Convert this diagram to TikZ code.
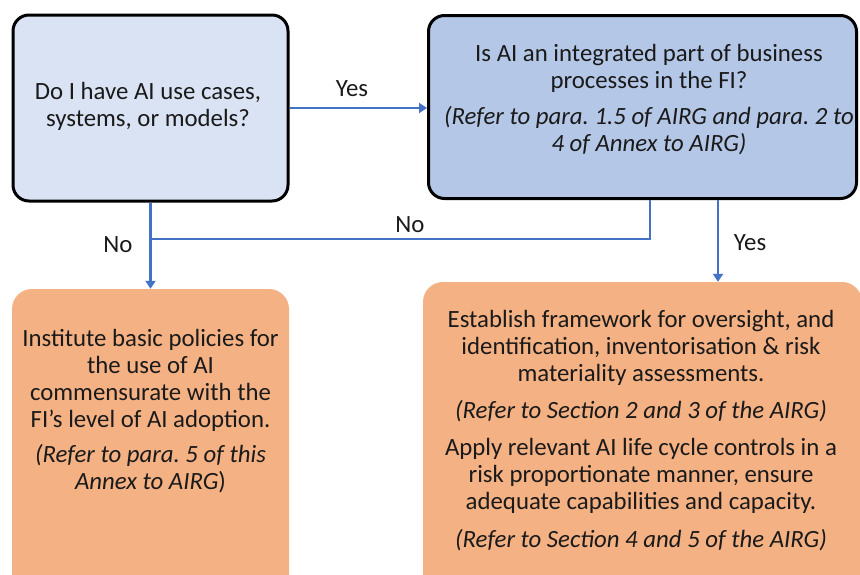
\documentclass[tikz,border=0pt]{standalone}
\usepackage{fontspec}
\setmainfont{Carlito}
\usetikzlibrary{calc,arrows.meta}
\definecolor{qblue}{HTML}{DAE3F3}
\definecolor{qbluedark}{HTML}{B4C7E7}
\definecolor{lineblue}{HTML}{4472C4}
\definecolor{actorange}{HTML}{F4B183}
\definecolor{txt}{HTML}{1A1A1A}
\frenchspacing
\begin{document}
\begin{tikzpicture}[x=1pt,y=-1pt,
  every node/.style={font=\fontsize{24.8}{27}\selectfont, text=txt},
  qbox/.style={draw=black, line width=3pt, rounded corners=16pt, inner sep=0pt},
  actbox/.style={fill=actorange, rounded corners=20pt, inner sep=0pt},
  txtnode/.style={align=center, inner sep=0pt},
  conn/.style={draw=lineblue, line width=2.6pt},
  arr/.style={conn, -{Triangle[length=8pt,width=10pt]}},
  lbl/.style={inner sep=0pt}]
\clip (0,0) rectangle (860,574);
\fill[white] (0,0) rectangle (860,574);
% boxes
\node[qbox, fill=qblue, minimum width=275pt, minimum height=186pt] (A) at (150.5,108) {};
\node[qbox, fill=qbluedark, minimum width=428pt, minimum height=183pt] (B) at (642.5,107) {};
\node[actbox, minimum width=277pt, minimum height=311pt] (C) at (150.5,444.5) {};
\node[actbox, minimum width=439pt, minimum height=318pt] (D) at (642.5,441) {};
% texts
\node[txtnode] (At) at (148,106.5) {Do I have AI use cases,\\systems, or models?};
\node[txtnode] (Bt) at (649,100) {Is AI an integrated part of business\\processes in the FI?\\[9pt]\textit{(Refer to para. 1.5 of AIRG and para. 2 to}\\\textit{4 of Annex to AIRG)}};
\node[txtnode] (Ct) at (150.5,411) {Institute basic policies for\\the use of AI\\commensurate with the\\FI’s level of AI adoption.\\[8pt]\textit{(Refer to para. 5 of this}\\\textit{Annex to AIRG})};
\node[txtnode] (Dt) at (641,430.5) {Establish framework for oversight, and\\identification, inventorisation \& risk\\materiality assessments.\\[10pt]\textit{(Refer to Section 2 and 3 of the AIRG)}\\[10pt]Apply relevant AI life cycle controls in a\\risk proportionate manner, ensure\\adequate capabilities and capacity.\\[11pt]\textit{(Refer to Section 4 and 5 of the AIRG)}};
% connectors
\draw[arr] (A.east) -- (B.west |- A.east);
\draw[arr] (A.south) -- (C.north);
\coordinate (bno) at ($(B.south)+(7.5,0)$);
\coordinate (jn) at (150.5,239);
\draw[conn] (bno) |- (jn);
\coordinate (byes) at ($(B.south)+(75.5,0)$);
\draw[arr] (byes) -- (byes |- D.north);
% labels
\node[lbl] (yes1) at (352,89) {Yes};
\node[lbl] (no1) at (118,245) {No};
\node[lbl] (no2) at (410,225) {No};
\node[lbl] (yes2) at (750,243) {Yes};
\end{tikzpicture}
\end{document}
